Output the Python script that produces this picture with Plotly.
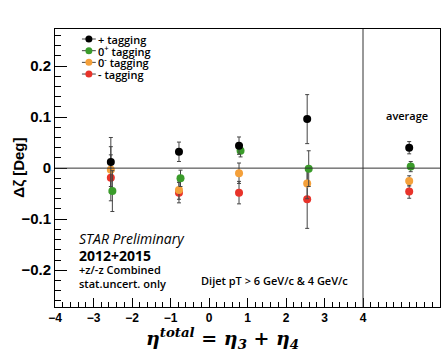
import plotly.graph_objects as go

# x positions of the four eta bins and the "average" column
x_bins = [-2.55, -0.78, 0.78, 2.55, 5.2]

plus_val = [0.012, 0.032, 0.044, 0.096, 0.040]
plus_err = [0.048, 0.019, 0.017, 0.048, 0.012]
zp_val = [-0.045, -0.020, 0.034, -0.001, 0.003]
zp_err = [0.040, 0.016, 0.012, 0.035, 0.010]
zm_val = [-0.003, -0.043, -0.010, -0.030, -0.025]
zm_err = [0.045, 0.018, 0.020, 0.030, 0.010]
minus_val = [-0.019, -0.048, -0.048, -0.061, -0.046]
minus_err = [0.045, 0.020, 0.022, 0.057, 0.013]

names = ["+ tagging", "0<sup>+</sup> tagging", "0<sup>-</sup> tagging", "- tagging"]
colors = ["#000000", "#3a9c2a", "#f4a03a", "#e8332a"]
offsets = [0.0, 0.04, 0.0, 0.0]
vals = [plus_val, zp_val, zm_val, minus_val]
errs = [plus_err, zp_err, zm_err, minus_err]

fig = go.Figure()
# draw in reverse so black is on top
for i in [3, 2, 1, 0]:
    fig.add_trace(go.Scatter(
        x=[x + offsets[i] for x in x_bins], y=vals[i], mode="markers", name=names[i],
        marker=dict(color=colors[i], size=8),
        error_y=dict(type="data", array=errs[i], color="#444444", thickness=1, width=2),
        showlegend=False))

fig.add_shape(type="line", x0=-4, x1=6, y0=0, y1=0, line=dict(color="#333333", width=1))
fig.add_shape(type="line", x0=4, x1=4, y0=0, y1=1, yref="paper", line=dict(color="#333333", width=1))

ann_font = "Open Sans, sans-serif"

# compact legend (ROOT-style), built from names/colors
leg_y = [0.964, 0.922, 0.880, 0.838]
for i in range(4):
    fig.add_shape(type="line", xref="paper", yref="paper", x0=0.070, x1=0.106,
                  y0=leg_y[i], y1=leg_y[i], line=dict(color="#444444", width=1))
    fig.add_shape(type="circle", xref="paper", yref="paper", xsizemode="pixel", ysizemode="pixel",
                  xanchor=0.088, yanchor=leg_y[i], x0=-3.5, x1=3.5, y0=-3.5, y1=3.5,
                  fillcolor=colors[i], line=dict(color=colors[i], width=0))
    fig.add_annotation(x=0.110, y=leg_y[i], xref="paper", yref="paper", text=names[i],
                       showarrow=False, xanchor="left", yanchor="middle", borderpad=0,
                       font=dict(size=11, family=ann_font, color="black", weight=600))

fig.add_annotation(x=-3.43, y=-0.137, text="<i>STAR Preliminary</i>", showarrow=False,
                   xanchor="left", font=dict(size=14, family=ann_font, color="black"))
fig.add_annotation(x=-3.43, y=-0.171, text="2012+2015", showarrow=False,
                   xanchor="left", font=dict(size=14, family=ann_font, color="black", weight=700))
fig.add_annotation(x=-3.43, y=-0.199, text="+z/-z Combined", showarrow=False,
                   xanchor="left", font=dict(size=11, family=ann_font, color="black", weight=600))
fig.add_annotation(x=-3.43, y=-0.226, text="stat.uncert. only", showarrow=False,
                   xanchor="left", font=dict(size=11, family=ann_font, color="black", weight=600))
fig.add_annotation(x=1.70, y=-0.220, text="Dijet pT &gt; 6 GeV/c &amp; 4 GeV/c", showarrow=False,
                   xanchor="center", font=dict(size=11, family=ann_font, color="black", weight=600))
fig.add_annotation(x=5.15, y=0.104, text="average", showarrow=False,
                   xanchor="center", font=dict(size=11, family=ann_font, color="black", weight=600))
fig.add_annotation(x=0.434, y=-0.058, xref="paper", yref="paper",
                   text="<b><i>η<sup>total</sup> = η<sub>3</sub> + η<sub>4</sub></i></b>",
                   showarrow=False, xanchor="center", yanchor="top",
                   font=dict(size=19, family="DejaVu Serif, serif", color="black"))
fig.add_annotation(x=-0.097, y=0.5, xref="paper", yref="paper",
                   text="<b>Δζ [Deg]</b>", textangle=-90,
                   showarrow=False, xanchor="center", yanchor="middle",
                   font=dict(size=15, family="Liberation Sans, Arial, sans-serif", color="black"))

tick_font = "Liberation Sans, Arial, sans-serif"
fig.update_layout(
    width=441, height=353,
    margin=dict(l=55, r=1, t=29, b=46),
    paper_bgcolor="white", plot_bgcolor="white",
    font=dict(family=tick_font, color="black"),
    showlegend=False,
    xaxis=dict(range=[-4, 6], tickvals=[-4, -3, -2, -1, 0, 1, 2, 3, 4],
               ticktext=["<b>−4</b>", "<b>−3</b>", "<b>−2</b>", "<b>−1</b>", "<b>0</b>",
                         "<b>1</b>", "<b>2</b>", "<b>3</b>", "<b>4</b>"],
               ticks="inside", ticklen=9, tickcolor="black",
               minor=dict(ticks="inside", dtick=0.2, tick0=0, ticklen=5, tickcolor="black"),
               showline=True, linecolor="black", linewidth=1, mirror=True,
               showgrid=False, zeroline=False, tickfont=dict(size=12)),
    yaxis=dict(range=[-0.272, 0.2725], tickvals=[-0.2, -0.1, 0, 0.1, 0.2],
               ticktext=["<b>−0.2</b>", "<b>−0.1</b>", "<b>0</b>", "<b>0.1</b>", "<b>0.2</b>"],
               ticks="inside", ticklen=12, tickcolor="black",
               minor=dict(ticks="inside", dtick=0.02, tick0=0, ticklen=6, tickcolor="black"),
               showline=True, linecolor="black", linewidth=1, mirror=True,
               showgrid=False, zeroline=False, tickfont=dict(size=15)),
)
fig.write_html("out.html")
